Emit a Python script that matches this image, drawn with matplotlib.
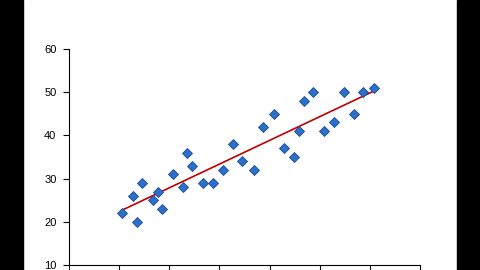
import numpy as np
import matplotlib
matplotlib.use('Agg')
from matplotlib import pyplot as plt
from matplotlib.patches import Rectangle

# values
x_vals = [5.3, 6.4, 6.8, 7.3, 8.4, 8.9, 9.3, 10.4, 11.4, 11.8,
          12.3, 13.4, 14.4, 15.4, 16.4, 17.3, 18.4, 19.3, 20.4, 21.4,
          22.4, 22.9, 23.4, 24.3, 25.4, 26.4, 27.4, 28.4, 29.3, 30.4]
y_vals = [22, 26, 20, 29, 25, 27, 23, 31, 28, 36,
          33, 29, 29, 32, 38, 34, 32, 42, 45, 37,
          35, 41, 48, 50, 41, 43, 50, 45, 50, 51]
x_ticks = [0, 5, 10, 15, 20, 25, 30, 35]
y_ticks = [10, 20, 30, 40, 50, 60]

plt.rcParams['font.family'] = ['Liberation Sans', 'DejaVu Sans']

fig = plt.figure(figsize=(4.8, 2.7), dpi=100)
ax = fig.add_axes([69 / 480, 5 / 270, (420 - 69) / 480, (265 - 49) / 270])

# linear trend line over the data range
slope, icpt = np.polyfit(x_vals, y_vals, 1)
xs = np.array([min(x_vals), max(x_vals)])
ax.plot(xs, slope * xs + icpt, color='#c00000', lw=1.2, zorder=2)

ax.plot(x_vals, y_vals, linestyle='', marker='D', ms=5.2,
        markerfacecolor='#2f6fcc', markeredgecolor='#174a94', markeredgewidth=0.6, zorder=3)

ax.set_xlim(0, 35)
ax.set_ylim(10, 60)
ax.set_xticks(x_ticks)
ax.set_xticklabels([])
ax.set_yticks(y_ticks)
ax.tick_params(axis='y', direction='out', length=4, width=0.8, labelsize=8, pad=5)
ax.tick_params(axis='x', direction='out', length=5, width=0.8)
for side in ['top', 'right']:
    ax.spines[side].set_visible(False)
for side in ['left', 'bottom']:
    ax.spines[side].set_linewidth(0.8)
ax.patch.set_alpha(0)

# black side bars of the screenshot
fig.patches.append(Rectangle((0, 0), 23 / 480, 1, transform=fig.transFigure, color='black', zorder=0))
fig.patches.append(Rectangle((457 / 480, 0), 23 / 480, 1, transform=fig.transFigure, color='black', zorder=0))

fig.savefig('out.png', dpi=100)
